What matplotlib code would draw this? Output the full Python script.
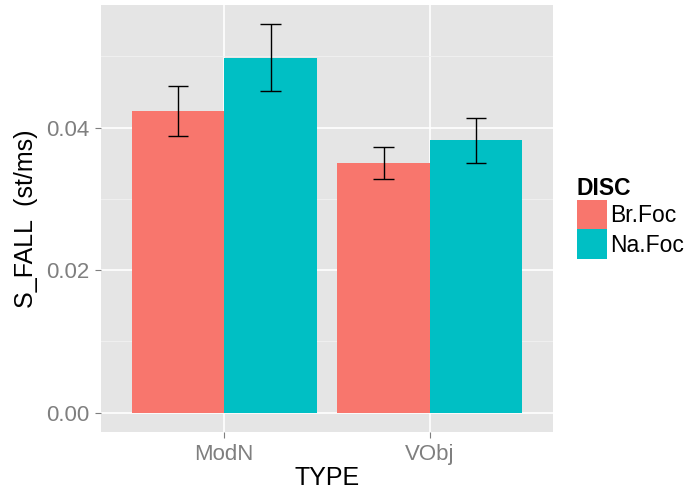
import numpy as np
import matplotlib
matplotlib.use("Agg")
import matplotlib.pyplot as plt
from matplotlib.patches import Patch

plt.rcParams['font.family'] = ['Liberation Sans', 'DejaVu Sans']

types = ["ModN", "VObj"]
discs = ["Br.Foc", "Na.Foc"]
colors = ["#F8766D", "#00BFC4"]

# mean S_FALL per TYPE, one list per DISC
means = {"Br.Foc": [0.0424, 0.0351], "Na.Foc": [0.0498, 0.0383]}
lower = {"Br.Foc": [0.0389, 0.0328], "Na.Foc": [0.0452, 0.0351]}
upper = {"Br.Foc": [0.0458, 0.0373], "Na.Foc": [0.0545, 0.0414]}

fig = plt.figure(figsize=(6.87, 4.92), dpi=100)
ax = fig.add_axes([101 / 687, 60 / 492, 452 / 687, 427 / 492])
ax.set_facecolor("#E5E5E5")

x = np.arange(1, len(types) + 1)
dodge = 0.9
bw = dodge / len(discs)
cap = 0.1
for i, d in enumerate(discs):
    xs = x - dodge / 2 + bw * (i + 0.5)
    ax.bar(xs, means[d], width=bw, color=colors[i], zorder=2)
    ax.vlines(xs, lower[d], upper[d], color="black", lw=1.0, zorder=3)
    ax.hlines(lower[d], xs - cap / 2, xs + cap / 2, color="black", lw=1.0, zorder=3)
    ax.hlines(upper[d], xs - cap / 2, xs + cap / 2, color="black", lw=1.0, zorder=3)

# scale expansion like ggplot defaults
hi = max(max(v) for v in upper.values())
pad = 0.05 * hi
ax.set_ylim(-pad, hi + pad)
ax.set_xlim(0.4, len(types) + 0.6)

ax.set_yticks([0.0, 0.02, 0.04])
ax.set_yticklabels(["0.00", "0.02", "0.04"])
ax.set_yticks([0.01, 0.03, 0.05], minor=True)
ax.set_xticks(x)
ax.set_xticklabels(types)

ax.grid(True, which="major", color="white", lw=1.2, zorder=0)
ax.grid(True, which="minor", axis="y", color="#F2F2F2", lw=0.6, zorder=0)
ax.set_axisbelow(True)
for s in ax.spines.values():
    s.set_visible(False)
ax.tick_params(which="major", length=4.3, width=0.8, color="#7F7F7F",
               labelcolor="#7F7F7F", labelsize=16, pad=4)
ax.tick_params(which="minor", length=0)

ax.set_xlabel("TYPE", fontsize=18, labelpad=1)
ax.set_ylabel("S_FALL  (st/ms)", fontsize=18, labelpad=6)

handles = [Patch(facecolor=c, edgecolor="none") for c in colors]
leg = fig.legend(handles, discs, title="DISC", loc="upper left",
                 bbox_to_anchor=(577 / 687, 1 - 177 / 492), frameon=False,
                 fontsize=16.5, handlelength=1.3, handleheight=1.6,
                 labelspacing=0.0, handletextpad=0.15, borderaxespad=0,
                 borderpad=0)
leg.get_title().set_fontweight("bold")
leg.get_title().set_fontsize(16.5)
leg._legend_box.align = "left"

fig.savefig("out.png", dpi=100)
